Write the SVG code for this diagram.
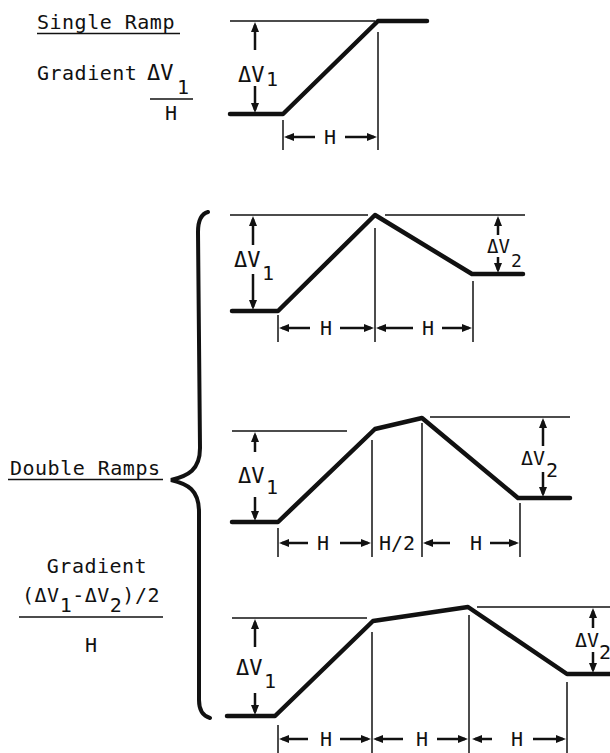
<svg xmlns="http://www.w3.org/2000/svg" width="610" height="753" viewBox="0 0 610 753">
<style>
.t{font-family:"DejaVu Sans Mono","Liberation Mono",monospace;font-size:20px;letter-spacing:0.5px;fill:#111}
.dv{font-family:"DejaVu Sans Mono","Liberation Mono",monospace;font-size:22px;fill:#111}
.dv2{font-family:"DejaVu Sans Mono","Liberation Mono",monospace;font-size:20px;fill:#111}
.h{font-family:"DejaVu Sans Mono","Liberation Mono",monospace;font-size:20px;fill:#111;text-anchor:middle}
.thick{fill:none;stroke:#111;stroke-width:4.5;stroke-linecap:round;stroke-linejoin:round}
.thin{fill:none;stroke:#111;stroke-width:1.3}
.ext{fill:none;stroke:#111;stroke-width:1.5}
.ar{fill:none;stroke:#111;stroke-width:2.5;marker-end:url(#ah)}
.brace{fill:none;stroke:#111;stroke-width:4;stroke-linecap:round}
</style>
<defs>
<marker id="ah" viewBox="0 0 10 8" refX="7" refY="4" markerWidth="10" markerHeight="8" orient="auto" markerUnits="userSpaceOnUse">
<path d="M0,0 L10,4 L0,8 z" fill="#111"/>
</marker>
</defs>
<rect width="610" height="753" fill="#fff"/>

<g id="single-ramp-label">
<text class="t" x="37" y="29">Single Ramp</text>
<line class="ext" x1="37" y1="33.5" x2="180" y2="33.5"/>
<text class="t" x="37" y="80">Gradient</text>
<text class="dv" x="147" y="80">ΔV</text>
<text class="t" x="177" y="94">1</text>
<line class="ext" x1="150" y1="99" x2="193" y2="99"/>
<text class="h" x="171" y="120">H</text>
</g>

<g id="single-ramp-plot">
<line class="thin" x1="230" y1="21" x2="375" y2="21"/>
<path class="thick" d="M230,114 L283,114 L378,21 L427,21"/>
<line class="ext" x1="378" y1="32" x2="378" y2="150"/>
<line class="ext" x1="283" y1="120" x2="283" y2="150"/>
<line class="ar" x1="255" y1="50" x2="255" y2="25"/>
<line class="ar" x1="255" y1="86" x2="255" y2="110"/>
<text class="dv" x="238" y="82">ΔV</text>
<text class="dv2" x="266" y="86">1</text>
<line class="ar" x1="315" y1="137" x2="287" y2="137"/>
<line class="ar" x1="345" y1="137" x2="374" y2="137"/>
<text class="h" x="330" y="144">H</text>
</g>

<g id="double-ramps-label">
<text class="t" x="10" y="475">Double Ramps</text>
<line class="ext" x1="8" y1="479.5" x2="163" y2="479.5"/>
<text class="h" x="97" y="573" style="letter-spacing:0.5px">Gradient</text>
<text class="t" x="22" y="602">(ΔV<tspan dy="10">1</tspan><tspan dy="-10">-ΔV</tspan><tspan dy="10">2</tspan><tspan dy="-10">)/2</tspan></text>
<line class="ext" x1="19" y1="617" x2="163" y2="617"/>
<text class="h" x="91" y="652">H</text>
</g>

<g id="brace">
<path class="brace" d="M208,212 C201,214 198,221 198,232 L200,448 C200,470 188,476 171,480 C188,484 199,490 199,512 L199,700 C199,711 203,716 210,718"/>
</g>

<g id="double-ramp-plot-1">
<line class="thin" x1="230" y1="215" x2="368" y2="215"/>
<line class="thin" x1="385" y1="215" x2="525" y2="215"/>
<path class="thick" d="M232,311 L278,311 L375,215 L472,274 L523,274"/>
<line class="ext" x1="375" y1="228" x2="375" y2="342"/>
<line class="ext" x1="473" y1="281" x2="473" y2="342"/>
<line class="ext" x1="278" y1="315" x2="278" y2="342"/>
<line class="ar" x1="253" y1="245" x2="253" y2="219"/>
<line class="ar" x1="253" y1="274" x2="253" y2="307"/>
<text class="dv" x="234" y="267">ΔV</text>
<text class="dv2" x="262" y="280">1</text>
<line class="ar" x1="498" y1="235" x2="498" y2="219"/>
<line class="ar" x1="498" y1="257" x2="498" y2="270"/>
<text class="dv2" x="487" y="253" style="font-size:19px">ΔV</text>
<text class="dv2" x="511" y="267" style="font-size:18px">2</text>
<line class="ar" x1="310" y1="328" x2="282" y2="328"/>
<line class="ar" x1="340" y1="328" x2="371" y2="328"/>
<text class="h" x="326" y="335">H</text>
<line class="ar" x1="413" y1="328" x2="379" y2="328"/>
<line class="ar" x1="442" y1="328" x2="469" y2="328"/>
<text class="h" x="428" y="335">H</text>
</g>

<g id="double-ramp-plot-2">
<line class="thin" x1="232" y1="431" x2="347" y2="431"/>
<line class="thin" x1="430" y1="417" x2="570" y2="417"/>
<path class="thick" d="M232,522 L278,522 L375,429 L422,418 L518,498 L570,498"/>
<line class="ext" x1="372" y1="440" x2="372" y2="557"/>
<line class="ext" x1="422" y1="423" x2="422" y2="557"/>
<line class="ext" x1="520" y1="503" x2="520" y2="557"/>
<line class="ext" x1="278" y1="528" x2="278" y2="557"/>
<line class="ar" x1="255" y1="452" x2="255" y2="435"/>
<line class="ar" x1="255" y1="497" x2="255" y2="518"/>
<text class="dv" x="238" y="483">ΔV</text>
<text class="dv2" x="266" y="494">1</text>
<line class="ar" x1="543" y1="446" x2="543" y2="421"/>
<line class="ar" x1="543" y1="472" x2="543" y2="494"/>
<text class="dv2" x="521" y="465">ΔV</text>
<text class="dv2" x="546" y="477">2</text>
<line class="ar" x1="308" y1="543" x2="282" y2="543"/>
<line class="ar" x1="340" y1="543" x2="368" y2="543"/>
<text class="h" x="323" y="550">H</text>
<text class="h" x="397" y="550">H/2</text>
<line class="ar" x1="450" y1="543" x2="426" y2="543"/>
<line class="ar" x1="490" y1="543" x2="516" y2="543"/>
<text class="h" x="476" y="550">H</text>
</g>

<g id="double-ramp-plot-3">
<line class="thin" x1="232" y1="618" x2="367" y2="618"/>
<line class="thin" x1="477" y1="607" x2="610" y2="607"/>
<path class="thick" d="M227,716 L275,716 L373,621 L468,607 L567,674 L612,674"/>
<line class="ext" x1="372" y1="632" x2="372" y2="753"/>
<line class="ext" x1="469" y1="615" x2="469" y2="753"/>
<line class="ext" x1="567" y1="682" x2="567" y2="753"/>
<line class="ext" x1="278" y1="725" x2="278" y2="753"/>
<line class="ar" x1="255" y1="647" x2="255" y2="622"/>
<line class="ar" x1="255" y1="693" x2="255" y2="712"/>
<text class="dv" x="236" y="675">ΔV</text>
<text class="dv2" x="264" y="688">1</text>
<line class="ar" x1="593" y1="628" x2="593" y2="611"/>
<line class="ar" x1="593" y1="652" x2="593" y2="670"/>
<text class="dv2" x="575" y="647">ΔV</text>
<text class="dv2" x="599" y="659">2</text>
<line class="ar" x1="308" y1="739" x2="282" y2="739"/>
<line class="ar" x1="340" y1="739" x2="368" y2="739"/>
<text class="h" x="326" y="746">H</text>
<line class="ar" x1="403" y1="739" x2="376" y2="739"/>
<line class="ar" x1="437" y1="739" x2="465" y2="739"/>
<text class="h" x="422" y="746">H</text>
<line class="ar" x1="492" y1="739" x2="475" y2="739"/>
<line class="ar" x1="533" y1="739" x2="563" y2="739"/>
<text class="h" x="517" y="746">H</text>
</g>
</svg>
